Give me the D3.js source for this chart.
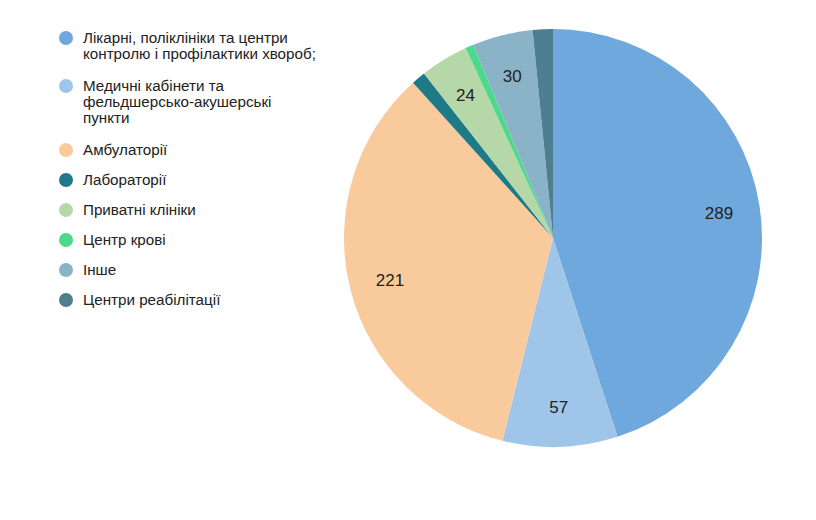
<!DOCTYPE html>
<html>
<head>
<meta charset="utf-8">
<script src="https://cdn.jsdelivr.net/npm/d3@7"></script>
<style>
  body { margin: 0; background: #fff; }
  text { font-family: "Liberation Sans", Arial, sans-serif; }
</style>
</head>
<body>
<div id="chart"></div>
<script>
// categories and values
var categories = [
  "Лікарні, поліклініки та центри контролю і профілактики хвороб;",
  "Медичні кабінети та фельдшерсько-акушерські пункти",
  "Амбулаторії",
  "Лабораторії",
  "Приватні клініки",
  "Центр крові",
  "Інше",
  "Центри реабілітації"
];
var values = [289, 57, 221, 7, 24, 4, 30, 10];
var colors = ["#6fa8dc", "#9fc5e8", "#f9cb9c", "#1f7a87", "#b6d7a8", "#4cd98b", "#8bb3c7", "#4d7f91"];
// legend lines (wrapped as in the picture)
var legendLines = [
  ["Лікарні, поліклініки та центри", "контролю і профілактики хвороб;"],
  ["Медичні кабінети та", "фельдшерсько-акушерські", "пункти"],
  ["Амбулаторії"],
  ["Лабораторії"],
  ["Приватні клініки"],
  ["Центр крові"],
  ["Інше"],
  ["Центри реабілітації"]
];

var width = 816, height = 520;
var cx = 553, cy = 238, radius = 209;

var svg = d3.select("#chart")
  .append("svg")
  .attr("width", width)
  .attr("height", height);

var data = categories.map(function(c, i) { return {name: c, value: values[i], color: colors[i]}; });

var pie = d3.pie().sort(null).value(d => d.value);
var arc = d3.arc().innerRadius(0).outerRadius(radius);
var labelArc = d3.arc().innerRadius(168).outerRadius(168);

var g = svg.append("g").attr("transform", "translate(" + cx + "," + cy + ")");

g.selectAll("path")
  .data(pie(data))
  .join("path")
    .attr("d", arc)
    .attr("fill", d => d.data.color);

// labels only for the bigger slices
g.selectAll("text")
  .data(pie(data).filter(d => d.data.value >= 20))
  .join("text")
    .attr("transform", d => "translate(" + labelArc.centroid(d) + ")")
    .attr("text-anchor", "middle")
    .attr("dy", "0.4em")
    .attr("font-size", 17)
    .attr("fill", "#222")
    .text(d => d.data.value);

// legend
var legend = svg.append("g");
var y = 38;
legendLines.forEach(function(lines, i) {
  legend.append("circle")
    .attr("cx", 66)
    .attr("cy", y)
    .attr("r", 7)
    .attr("fill", colors[i]);
  var t = legend.append("text")
    .attr("x", 83)
    .attr("y", y)
    .attr("font-size", 15.2)
    .attr("fill", "#222");
  lines.forEach(function(l, j) {
    t.append("tspan").attr("x", 83).attr("dy", j == 0 ? "0.35em" : 16).text(l);
  });
  y += lines.length * 16 + (lines.length > 1 ? 16 : 14);
});
</script>
</body>
</html>
